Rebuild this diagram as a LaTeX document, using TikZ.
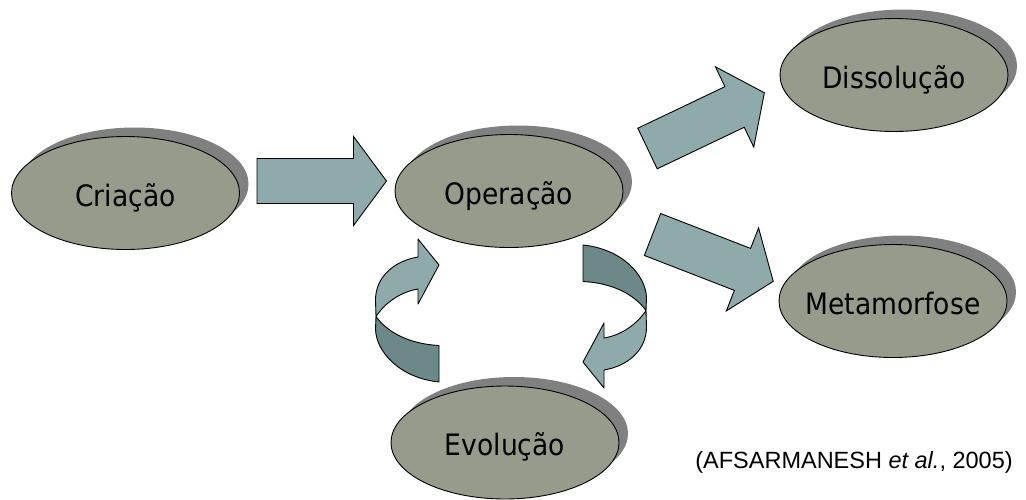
\documentclass[tikz,border=0pt]{standalone}
\usepackage{fontspec}
\newfontfamily\labfont{DejaVu Sans}[FakeStretch=0.9]
\newfontfamily\citefont{Liberation Sans}
\usetikzlibrary{shapes.geometric,shadows,calc}
\definecolor{ellfill}{RGB}{150,155,140}
\definecolor{arrlight}{RGB}{143,170,170}
\definecolor{arrdark}{RGB}{108,136,136}
\definecolor{shadowgray}{RGB}{128,128,128}
\tikzset{
  ell/.style={ellipse, draw=black, line width=0.9pt, fill=ellfill,
    minimum width=228pt, minimum height=113pt, inner sep=0pt,
    drop shadow={shadow xshift=9pt, shadow yshift=9pt, fill=shadowgray, opacity=1}},
  lab/.style={font=\labfont\fontsize{29.5}{34}\selectfont, anchor=base, inner sep=0pt},
  blockarr/.style={draw=black, line width=0.9pt, fill=arrlight, line join=miter},
  ribbonlight/.style={draw=black, line width=0.9pt, fill=arrlight, line join=round},
  ribbondark/.style={draw=black, line width=0.9pt, fill=arrdark, line join=round},
}
\newcommand\blockarrow[3]{%
  \begin{scope}[shift={(#1,#2)}, rotate=#3]
    \draw[blockarr] (0,-22.5) -- (96.5,-22.5) -- (96.5,-44.5) -- (129.5,0)
      -- (96.5,44.5) -- (96.5,22.5) -- (0,22.5) -- cycle;
  \end{scope}}
\newcommand\ribbonarrow{%
  \draw[ribbonlight] (418,257) -- (418,239) -- (439,265) -- (418,304) -- (418,289)
    .. controls (400,292) and (385,303) .. (376,316.5) -- (375.5,300)
    .. controls (375.5,277) and (394,261) .. (418,257) -- cycle;
  \draw[ribbondark] (376,316.5) .. controls (388,333) and (410,344) .. (439,345.5)
    -- (439,382) .. controls (400,378) and (376,352) .. (375.5,329) -- cycle;}
\begin{document}
\begin{tikzpicture}[x=1pt,y=-1pt]
  \useasboundingbox (0,0) rectangle (1026,499);
  \fill[white] (0,0) rectangle (1026,499);

  \node[ell] (cri) at (125.5,193) {};
  \node[ell] (ope) at (509,191) {};
  \node[ell] (dis) at (894,75) {};
  \node[ell] (met) at (893,301) {};
  \node[ell] (evo) at (505,442.5) {};

  \node[lab] (tcri) at ($(cri.center)+(0,13)$) {Criação};
  \node[lab] (tope) at ($(ope.center)+(0,13)$) {Operação};
  \node[lab] (tdis) at ($(dis.center)+(0,13)$) {Dissolução};
  \node[lab] (tmet) at ($(met.center)+(0,13)$) {Metamorfose};
  \node[lab] (tevo) at ($(evo.center)+(0,13)$) {Evolução};

  \blockarrow{257}{181}{0}
  \blockarrow{647.5}{148.5}{25.5}
  \blockarrow{652.5}{234.5}{-21.2}

  \ribbonarrow
  \begin{scope}[rotate around={180:(511,313.5)}]
    \ribbonarrow
  \end{scope}

  \node[font=\citefont\fontsize{23.5}{28}\selectfont, anchor=base, inner sep=0pt] (cite)
    at (854,468) {(AFSARMANESH {\itshape et al.}, 2005)};
\end{tikzpicture}
\end{document}
